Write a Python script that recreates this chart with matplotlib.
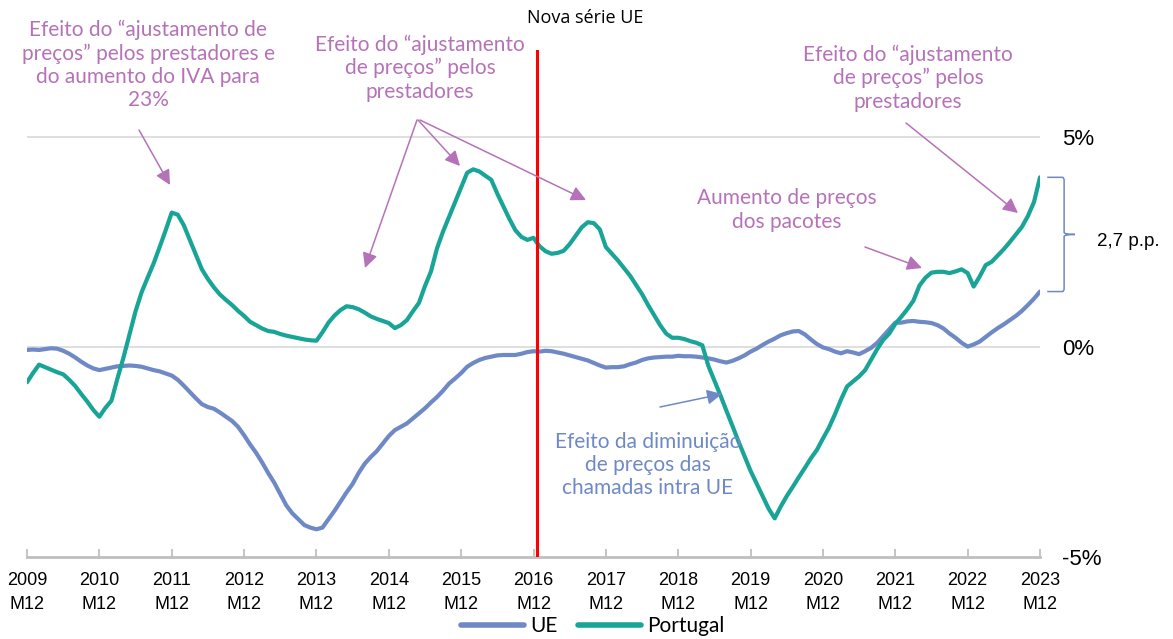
import numpy as np
import matplotlib.pyplot as plt
from matplotlib.path import Path
from matplotlib.patches import PathPatch

# monthly values, 2009 M12 .. 2023 M12 (yoy change, %)
ue = [-0.07, -0.06, -0.07, -0.05, -0.03, -0.04, -0.09, -0.16, -0.25, -0.35,
      -0.44, -0.51, -0.55, -0.52, -0.49, -0.46, -0.45, -0.44, -0.45, -0.47,
      -0.51, -0.55, -0.58, -0.63, -0.68, -0.78, -0.92, -1.07, -1.22, -1.36,
      -1.43, -1.47, -1.56, -1.66, -1.76, -1.90, -2.10, -2.32, -2.52, -2.75,
      -3.00, -3.23, -3.50, -3.77, -3.96, -4.10, -4.24, -4.30, -4.34, -4.30,
      -4.10, -3.90, -3.68, -3.46, -3.26, -3.00, -2.78, -2.62, -2.48, -2.30,
      -2.12, -1.98, -1.90, -1.82, -1.70, -1.58, -1.46, -1.32, -1.19, -1.04,
      -0.87, -0.75, -0.62, -0.47, -0.38, -0.31, -0.26, -0.23, -0.20, -0.19,
      -0.19, -0.19, -0.16, -0.12, -0.10, -0.11, -0.09, -0.10, -0.13, -0.16,
      -0.20, -0.24, -0.28, -0.32, -0.38, -0.44, -0.49, -0.48, -0.48, -0.46,
      -0.41, -0.37, -0.31, -0.27, -0.25, -0.24, -0.23, -0.23, -0.21, -0.22,
      -0.22, -0.23, -0.25, -0.27, -0.30, -0.34, -0.37, -0.33, -0.27, -0.20,
      -0.11, -0.04, 0.05, 0.13, 0.20, 0.28, 0.33, 0.37, 0.38, 0.30,
      0.18, 0.07, -0.01, -0.05, -0.11, -0.15, -0.10, -0.13, -0.17, -0.10,
      -0.02, 0.10, 0.26, 0.42, 0.58, 0.58, 0.61, 0.62, 0.60, 0.59,
      0.57, 0.52, 0.44, 0.32, 0.22, 0.10, 0.01, 0.06, 0.13, 0.24,
      0.35, 0.45, 0.54, 0.64, 0.74, 0.86, 1.00, 1.15, 1.32]

portugal = [-0.84, -0.62, -0.42, -0.48, -0.54, -0.60, -0.65, -0.78, -0.93, -1.12,
            -1.30, -1.50, -1.66, -1.45, -1.28, -0.75, -0.25, 0.30, 0.85, 1.30,
            1.65, 1.99, 2.38, 2.78, 3.20, 3.15, 2.90, 2.55, 2.20, 1.85,
            1.62, 1.42, 1.25, 1.12, 1.00, 0.86, 0.74, 0.60, 0.52, 0.44,
            0.38, 0.36, 0.31, 0.27, 0.24, 0.21, 0.18, 0.16, 0.15, 0.35,
            0.58, 0.75, 0.88, 0.97, 0.95, 0.90, 0.82, 0.73, 0.67, 0.62,
            0.57, 0.45, 0.52, 0.64, 0.85, 1.05, 1.45, 1.80, 2.35, 2.75,
            3.10, 3.45, 3.80, 4.15, 4.23, 4.18, 4.08, 3.98, 3.65, 3.35,
            3.05, 2.78, 2.62, 2.55, 2.60, 2.40, 2.28, 2.22, 2.24, 2.29,
            2.45, 2.65, 2.85, 2.97, 2.95, 2.80, 2.38, 2.22, 2.06, 1.88,
            1.70, 1.48, 1.26, 1.00, 0.76, 0.52, 0.32, 0.22, 0.22, 0.19,
            0.14, 0.10, 0.04, -0.45, -0.80, -1.15, -1.52, -1.88, -2.25, -2.60,
            -2.95, -3.25, -3.55, -3.85, -4.08, -3.80, -3.55, -3.33, -3.10, -2.88,
            -2.65, -2.45, -2.18, -1.92, -1.60, -1.25, -0.94, -0.82, -0.70, -0.55,
            -0.30, -0.05, 0.17, 0.32, 0.55, 0.72, 0.90, 1.10, 1.46, 1.65,
            1.77, 1.79, 1.79, 1.76, 1.80, 1.85, 1.76, 1.44, 1.68, 1.95,
            2.03, 2.18, 2.33, 2.50, 2.68, 2.86, 3.12, 3.45, 4.04]

years = list(range(2009, 2024))
tick_labels = [f"{y}\nM12" for y in years]
yticks = [-5, 0, 5]
ytick_labels = ["-5%", "0%", "5%"]

blue = "#6E89C6"
teal = "#18A496"
purple = "#B672B8"
gray = "#BFBFBF"

fig = plt.figure(figsize=(11.73, 6.39), dpi=100)
W, H = 1173, 639
ax = fig.add_axes([27 / W, 1 - 557 / H, (1040 - 27) / W, (557 - 50) / H])

x = np.arange(len(ue))
ax.plot(x, ue, color=blue, lw=3.0, label="UE", solid_capstyle="round")
ax.plot(x, portugal, color=teal, lw=3.0, label="Portugal", solid_capstyle="round")

ax.set_xlim(0, 168)
ax.set_ylim(-5, (347 - 50) / 42)

for v in [0, 5]:
    ax.axhline(v, color="#D9D9D9", lw=1.2, zorder=0)

# red marker for the new EU series
ax.axvline(84.5, color="#FF0000", lw=2.2, zorder=3)
ax.text(585 / W, 1 - 18 / H, "Nova série UE", transform=fig.transFigure,
        ha="center", va="center", fontsize=13, family="Open Sans", color="black")

for s in ["top", "right", "left"]:
    ax.spines[s].set_visible(False)
ax.spines["bottom"].set_color(gray)
ax.spines["bottom"].set_linewidth(2)

ax.set_xticks(np.arange(0, 169, 12))
ax.set_xticklabels(tick_labels, fontsize=13, family="Liberation Sans", linespacing=1.5)
ax.tick_params(axis="x", direction="in", length=6, width=1.3, color=gray, pad=11)

ax.yaxis.tick_right()
ax.set_yticks(yticks)
ax.set_yticklabels(ytick_labels, fontsize=16, family="Liberation Sans")
ax.tick_params(axis="y", length=0, pad=16)


def note(text, cx, cy, color):
    fig.text(cx / W, 1 - cy / H, text, ha="center", va="center", color=color,
             fontsize=15, family="Lato", linespacing=1.2)


def arrow(x0, y0, x1, y1, color):
    fig.add_artist(plt.Annotation(
        "", xy=(x1 / W, 1 - y1 / H), xytext=(x0 / W, 1 - y0 / H),
        xycoords="figure fraction", textcoords="figure fraction",
        arrowprops=dict(arrowstyle="-|>,head_length=0.9,head_width=0.45",
                        color=color, lw=1.1, shrinkA=0, shrinkB=0)))


note("Efeito do “ajustamento de\npreços” pelos prestadores e\ndo aumento do IVA para\n23%",
     148, 65, purple)
arrow(139, 130, 170, 185, purple)

note("Efeito do “ajustamento\nde preços” pelos\nprestadores", 420, 68, purple)
arrow(417, 120, 365, 268, purple)
arrow(418, 120, 460, 166, purple)
arrow(420, 120, 586, 200, purple)

note("Efeito do “ajustamento\nde preços” pelos\nprestadores", 908, 78, purple)
arrow(906, 123, 1018, 213, purple)

note("Aumento de preços\ndos pacotes", 787, 210, purple)
arrow(865, 247, 922, 268, purple)

note("Efeito da diminuição\nde preços das\nchamadas intra UE", 648, 465, blue)
arrow(660, 407, 722, 394, blue)

# curly bracket showing the gap at the end
top, bot, mid = portugal[-1], ue[-1], (portugal[-1] + ue[-1]) / 2
xa, xb, xc = 169.2, 172.0, 173.8
verts = [(xa, top), (xb - 0.3, top), (xb, top), (xb, top - 0.08),
         (xb, mid + 0.05), (xb, mid), (xc, mid),
         (xb, mid), (xb, mid - 0.05),
         (xb, bot + 0.08), (xb, bot), (xb - 0.3, bot), (xa, bot)]
codes = [Path.MOVETO, Path.LINETO, Path.CURVE3, Path.CURVE3,
         Path.LINETO, Path.CURVE3, Path.CURVE3,
         Path.CURVE3, Path.CURVE3,
         Path.LINETO, Path.CURVE3, Path.CURVE3, Path.LINETO]
brace = PathPatch(Path(verts, codes), fill=False, edgecolor=blue, lw=1.1, clip_on=False)
ax.add_patch(brace)
ax.text(1128 / W, 1 - 241 / H, "2,7 p.p.", transform=fig.transFigure, ha="center",
        va="center", fontsize=13.5, family="Liberation Sans")

leg = fig.legend(loc="center", bbox_to_anchor=(593 / W, 1 - 626 / H), ncol=2,
                 frameon=False, prop={"family": "Lato", "size": 15},
                 handlelength=3.0, columnspacing=1.0, handletextpad=0.3)
for line in leg.get_lines():
    line.set_linewidth(4)

fig.savefig("out.png", dpi=100)
